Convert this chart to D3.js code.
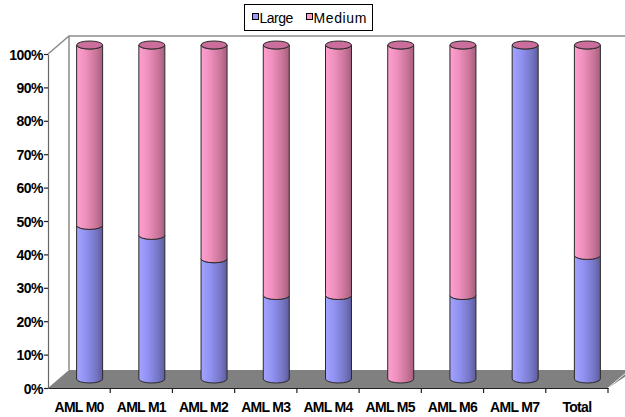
<!DOCTYPE html>
<html>
<head>
<meta charset="utf-8">
<script src="https://cdn.jsdelivr.net/npm/d3@7/dist/d3.min.js"></script>
<style>
  html, body { margin: 0; padding: 0; background: #fff; }
  svg { display: block; }
</style>
</head>
<body>
<svg id="chart" width="625" height="417"></svg>
<script>
// Share of each size class per AML subtype (stacked to 100%)
const categories = ["AML M0", "AML M1", "AML M2", "AML M3", "AML M4", "AML M5", "AML M6", "AML M7", "Total"];
const large  = [0.46, 0.43, 0.36, 0.25, 0.25, 0.00, 0.25, 1.00, 0.37];
const medium = [0.54, 0.57, 0.64, 0.75, 0.75, 1.00, 0.75, 0.00, 0.63];
const seriesNames = ["Large", "Medium"];
const yTicks = [0, 0.1, 0.2, 0.3, 0.4, 0.5, 0.6, 0.7, 0.8, 0.9, 1.0];

const svg = d3.select("#chart");
const W = 625, H = 417;

// plot frame (front plane) and depth offset of the 3D box
const plotLeft = 48, plotRight = 608, plotTop = 54, plotBottom = 388;
const depthX = 21, depthY = -18;

const x = d3.scaleBand().domain(categories).range([plotLeft, plotRight]).padding(0);
const y = d3.scaleLinear().domain([0, 1]).range([plotBottom, plotTop]);

const defs = svg.append("defs");
function cylGrad(id, stops) {
  const g = defs.append("linearGradient").attr("id", id)
    .attr("x1", "0%").attr("x2", "100%").attr("y1", "0%").attr("y2", "0%");
  stops.forEach(([o, c]) => g.append("stop").attr("offset", o).attr("stop-color", c));
}
cylGrad("gLarge",  [["0%", "#a3a3ff"], ["35%", "#9191f2"], ["75%", "#7676c6"], ["100%", "#5c5c99"]]);
cylGrad("gMedium", [["0%", "#ff9fcf"], ["35%", "#ee90bd"], ["75%", "#c97499"], ["100%", "#a35f7e"]]);
const fills = { Large: "url(#gLarge)", Medium: "url(#gMedium)" };
const swatch = { Large: "#9999ff", Medium: "#ff99cc" };

// ---- walls and floor ----
const wall = svg.append("g");
const backTop = y(1) + depthY, backBottom = y(0) + depthY;
wall.append("polygon")
  .attr("points", [[plotLeft, y(0)], [plotLeft + depthX, backBottom], [W + 10, backBottom], [plotRight, y(0)]].map(p => p.join(",")).join(" "))
  .attr("fill", "#808080");
wall.append("path")
  .attr("d", `M${plotLeft},${y(1)} L${plotLeft + depthX},${backTop} L${W + 10},${backTop}
              M${plotLeft + depthX},${backTop} L${plotLeft + depthX},${backBottom}`)
  .attr("fill", "none").attr("stroke", "#8c8c8c").attr("stroke-width", 1.5);
wall.append("line")
  .attr("x1", plotRight).attr("y1", y(0)).attr("x2", plotRight + depthX + 4).attr("y2", backBottom - 3)
  .attr("stroke", "#eee").attr("stroke-width", 1);

// ---- y axis ----
const yAxis = svg.append("g").attr("transform", `translate(${plotLeft},0)`)
  .call(d3.axisLeft(y).tickValues(yTicks).tickFormat(d3.format(".0%")).tickSize(4).tickSizeOuter(0));
yAxis.select(".domain").attr("stroke", "#666").attr("stroke-width", 1.2);
yAxis.selectAll(".tick line").attr("stroke", "#222").attr("stroke-width", 1.2);
yAxis.selectAll(".tick text")
  .attr("x", -5).attr("dy", "0.36em")
  .attr("font-family", "Liberation Sans, Arial, sans-serif")
  .attr("font-size", 14).attr("font-weight", "bold")
  .attr("letter-spacing", "-0.5px").attr("fill", "#000");

// ---- x axis ----
const xAxis = svg.append("g").attr("transform", `translate(0,${plotBottom})`)
  .call(d3.axisBottom(x).tickSize(0).tickSizeOuter(0));
xAxis.select(".domain").attr("stroke", "#222").attr("stroke-width", 1.2);
xAxis.selectAll(".tick text")
  .attr("y", 14).attr("dy", "0.71em")
  .attr("font-family", "Liberation Sans, Arial, sans-serif")
  .attr("font-size", 14).attr("font-weight", "bold")
  .attr("letter-spacing", "-0.7px").attr("fill", "#000");
const bounds = categories.map(c => x(c)).concat([x.range()[1]]);
xAxis.selectAll("line.bound").data(bounds.slice(1)).join("line").attr("class", "bound")
  .attr("x1", d => d).attr("x2", d => d).attr("y1", 0).attr("y2", 5)
  .attr("stroke", "#222").attr("stroke-width", 1.2);

// ---- cylinders ----
const r = 13, ry = 4;
const bars = svg.append("g");
categories.forEach((c, i) => {
  const cx = x(c) + x.bandwidth() / 2 + depthX / 2;
  const segs = [
    { name: "Large", v0: 0, v1: large[i] },
    { name: "Medium", v0: large[i], v1: large[i] + medium[i] }
  ];
  segs.forEach(s => {
    if (s.v1 - s.v0 <= 0) return;
    const Y0 = y(s.v0) + depthY / 2, Y1 = y(s.v1) + depthY / 2;
    bars.append("path")
      .attr("d", `M${cx - r},${Y1} L${cx - r},${Y0} A${r},${ry} 0 0 0 ${cx + r},${Y0} L${cx + r},${Y1} A${r},${ry} 0 0 1 ${cx - r},${Y1} Z`)
      .attr("fill", fills[s.name]).attr("stroke", "#2a2a2a").attr("stroke-width", 1);
  });
  const topV = large[i] + medium[i];
  bars.append("ellipse")
    .attr("cx", cx).attr("cy", y(topV) + depthY / 2).attr("rx", r).attr("ry", ry)
    .attr("fill", "#cc6e9c").attr("stroke", "#2a2a2a").attr("stroke-width", 1);
});

// ---- legend ----
const lg = svg.append("g");
lg.append("rect").attr("x", 244.5).attr("y", 4.5).attr("width", 128).attr("height", 26)
  .attr("fill", "#fff").attr("stroke", "#000").attr("stroke-width", 1);
const legendItems = [
  { name: seriesNames[0], sx: 252, tx: 259.5, spacing: -0.5 },
  { name: seriesNames[1], sx: 306, tx: 313.5, spacing: 0.6 }
];
legendItems.forEach(d => {
  lg.append("rect").attr("x", d.sx + 0.5).attr("y", 13.5).attr("width", 6).attr("height", 6)
    .attr("fill", swatch[d.name]).attr("stroke", "#000").attr("stroke-width", 1);
  lg.append("text").attr("x", d.tx).attr("y", 23)
    .attr("font-family", "Liberation Sans, Arial, sans-serif").attr("font-size", 14)
    .attr("letter-spacing", d.spacing + "px")
    .attr("fill", "#000").text(d.name);
});
</script>
</body>
</html>
